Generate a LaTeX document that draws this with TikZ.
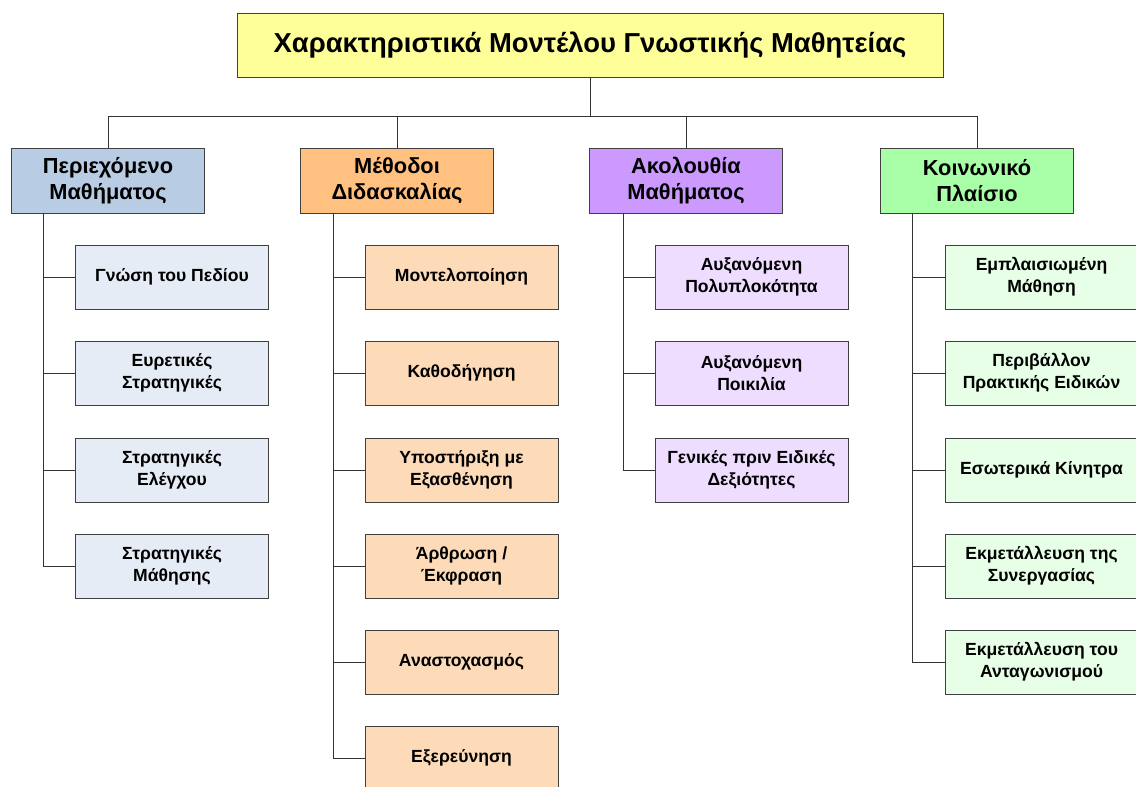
\documentclass[tikz,border=0pt]{standalone}
\usepackage{fontspec}
\setmainfont{Liberation Sans}
\usetikzlibrary{positioning}

\definecolor{titlefill}{HTML}{FFFF99}
\definecolor{bluehead}{HTML}{B8CCE4}
\definecolor{bluechild}{HTML}{E6ECF6}
\definecolor{orangehead}{HTML}{FFC080}
\definecolor{orangechild}{HTML}{FDDBB8}
\definecolor{violethead}{HTML}{CC99FF}
\definecolor{violetchild}{HTML}{EEDDFF}
\definecolor{greenhead}{HTML}{A8FFA8}
\definecolor{greenchild}{HTML}{E6FFE6}

\tikzset{
  box/.style={draw=black!75,rectangle,align=center,font=\bfseries,text=black},
  titlebox/.style={box,fill=titlefill,minimum width=17.65cm,minimum height=1.6cm,font=\fontsize{19.5}{22}\selectfont\bfseries},
  headbox/.style={box,minimum width=4.825cm,minimum height=1.625cm,font=\fontsize{15.5}{18.4}\selectfont\bfseries},
  childbox/.style={box,minimum width=4.825cm,minimum height=1.6cm,font=\fontsize{12.5}{15.6}\selectfont\bfseries},
  link/.style={draw=black!80,line width=0.6pt}
}

\begin{document}
\begin{tikzpicture}[x=0.025cm,y=-0.025cm]
        \useasboundingbox (0,0) rectangle (1136,787);
        %% Title
        \node[titlebox] (title) at (590,45) {Χαρακτηριστικά Μοντέλου Γνωστικής Μαθητείας};
        \coordinate (bus) at (590,116);
        %% Categories
        \node[headbox,fill=bluehead] (content) at (108,180.5) {Περιεχόμενο\\Μαθήματος};
        \node[headbox,fill=orangehead] (method) at (397,180.5) {Μέθοδοι\\Διδασκαλίας};
        \node[headbox,fill=violethead] (sequence) at (686,180.5) {Ακολουθία\\Μαθήματος};
        \node[headbox,fill=greenhead] (social) at (977,180.5) {Κοινωνικό\\Πλαίσιο};
        \draw[link] (title.south) -- (bus);
        \draw[link] (bus) -| (content.north);
        \draw[link] (bus) -| (method.north);
        \draw[link] (bus) -| (sequence.north);
        \draw[link] (bus) -| (social.north);
        %% Content
        \node[childbox,fill=bluechild] (domain) at (172,277) {Γνώση του Πεδίου};
        \node[childbox,fill=bluechild] (heuristic) at (172,373) {Ευρετικές\\Στρατηγικές};
        \node[childbox,fill=bluechild] (control) at (172,470) {Στρατηγικές\\Ελέγχου};
        \node[childbox,fill=bluechild] (learning) at (172,566) {Στρατηγικές\\Μάθησης};
        \coordinate (spineA) at (43,213);
        \foreach \n in {domain,heuristic,control,learning}
          \draw[link] (spineA) |- (\n.west);
        %% Methods
        \node[childbox,fill=orangechild] (modeling) at (461.5,277) {Μοντελοποίηση};
        \node[childbox,fill=orangechild] (coaching) at (461.5,373) {Καθοδήγηση};
        \node[childbox,fill=orangechild] (scaffold) at (461.5,470) {Υποστήριξη με\\Εξασθένηση};
        \node[childbox,fill=orangechild] (articul) at (461.5,566) {Άρθρωση /\\Έκφραση};
        \node[childbox,fill=orangechild] (reflect) at (461.5,662) {Αναστοχασμός};
        \node[childbox,fill=orangechild] (explore) at (461.5,758) {Εξερεύνηση};
        \coordinate (spineB) at (333,213);
        \foreach \n in {modeling,coaching,scaffold,articul,reflect,explore}
          \draw[link] (spineB) |- (\n.west);
        %% Sequence
        \node[childbox,fill=violetchild] (complex) at (751.5,277) {Αυξανόμενη\\Πολυπλοκότητα};
        \node[childbox,fill=violetchild] (diverse) at (751.5,373) {Αυξανόμενη\\Ποικιλία};
        \node[childbox,fill=violetchild] (global) at (751.5,470) {Γενικές πριν Ειδικές\\Δεξιότητες};
        \coordinate (spineC) at (623,213);
        \foreach \n in {complex,diverse,global}
          \draw[link] (spineC) |- (\n.west);
        %% Social context
        \node[childbox,fill=greenchild] (situated) at (1041.5,277) {Εμπλαισιωμένη\\Μάθηση};
        \node[childbox,fill=greenchild] (practice) at (1041.5,373) {Περιβάλλον\\Πρακτικής Ειδικών};
        \node[childbox,fill=greenchild] (motive) at (1041.5,470) {Εσωτερικά Κίνητρα};
        \node[childbox,fill=greenchild] (coop) at (1041.5,566) {Εκμετάλλευση της\\Συνεργασίας};
        \node[childbox,fill=greenchild] (compet) at (1041.5,662) {Εκμετάλλευση του\\Ανταγωνισμού};
        \coordinate (spineD) at (912,213);
        \foreach \n in {situated,practice,motive,coop,compet}
          \draw[link] (spineD) |- (\n.west);
    \end{tikzpicture}
\end{document}
